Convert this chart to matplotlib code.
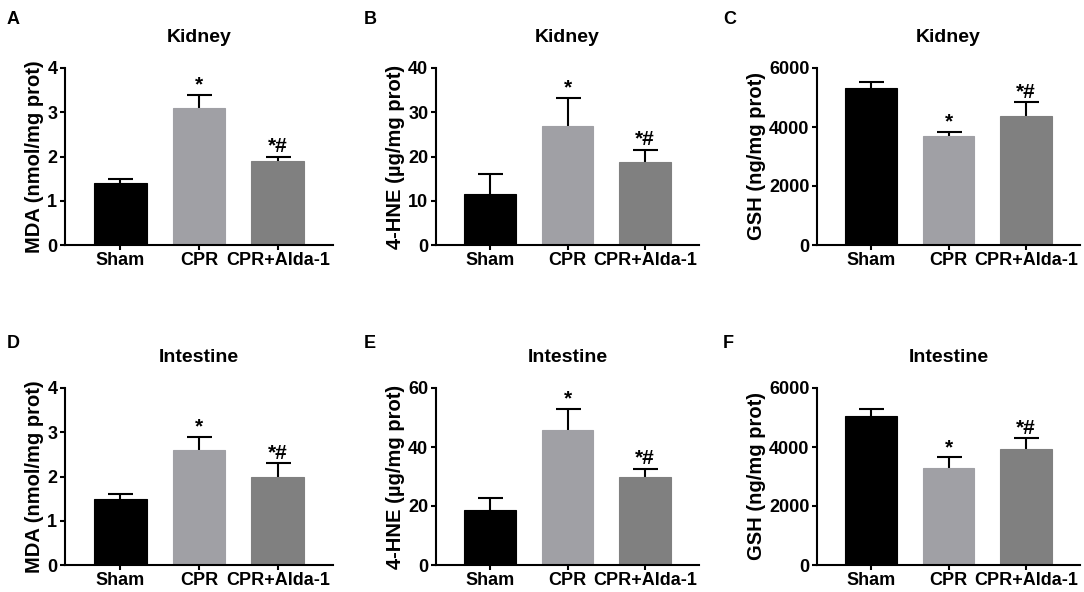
import numpy as np
import matplotlib
matplotlib.use('Agg')
import matplotlib.pyplot as plt

plt.rcParams['font.family'] = ['Liberation Sans', 'DejaVu Sans']
plt.rcParams['font.weight'] = 'bold'

# Nhóm thí nghiệm
groups = ['Sham', 'CPR', 'CPR+Alda-1']
bar_colors = ['#000000', '#a0a0a5', '#808080']

# Giá trị trung bình và sai số (chỉ vẽ phía trên)
kidney_mda = [1.4, 3.1, 1.9]
kidney_mda_err = [0.1, 0.3, 0.1]
kidney_hne = [11.6, 26.9, 18.8]
kidney_hne_err = [4.5, 6.4, 2.7]
kidney_gsh = [5310, 3685, 4360]
kidney_gsh_err = [225, 135, 475]

intestine_mda = [1.5, 2.6, 2.0]
intestine_mda_err = [0.1, 0.3, 0.3]
intestine_hne = [18.8, 45.7, 30.0]
intestine_hne_err = [4.0, 7.3, 2.7]
intestine_gsh = [5050, 3305, 3940]
intestine_gsh_err = [250, 340, 360]

# Ký hiệu thống kê
marks = ['', '*', '*#']

panels = [
    ('A', 'Kidney', kidney_mda, kidney_mda_err, 'MDA (nmol/mg prot)', 4, 1),
    ('B', 'Kidney', kidney_hne, kidney_hne_err, '4-HNE (\u00b5g/mg prot)', 40, 10),
    ('C', 'Kidney', kidney_gsh, kidney_gsh_err, 'GSH (ng/mg prot)', 6000, 2000),
    ('D', 'Intestine', intestine_mda, intestine_mda_err, 'MDA (nmol/mg prot)', 4, 1),
    ('E', 'Intestine', intestine_hne, intestine_hne_err, '4-HNE (\u00b5g/mg prot)', 60, 20),
    ('F', 'Intestine', intestine_gsh, intestine_gsh_err, 'GSH (ng/mg prot)', 6000, 2000),
]

W, H = 1084, 592
fig = plt.figure(figsize=(W / 100, H / 100), dpi=100)

# Vị trí trục (pixel): trái, phải
col_px = [(65, 333), (436, 699), (817, 1080)]
row_px = [(68, 245), (388, 565)]
letter_x = [7, 364, 723]
letter_y = [20, 343]

x = np.arange(len(groups))
for i, (letter, title, vals, errs, ylab, ymax, step) in enumerate(panels):
    r, c = divmod(i, 3)
    l, rr = col_px[c]
    t, b = row_px[r]
    ax = fig.add_axes([l / W, 1 - b / H, (rr - l) / W, (b - t) / H])
    ax.bar(x, vals, width=0.67, color=bar_colors, edgecolor=bar_colors,
           linewidth=0.8, zorder=2)
    eb = ax.errorbar(x, vals, yerr=[np.zeros(3), errs], fmt='none', ecolor='black',
                     elinewidth=1.5, capsize=9, capthick=1.5, zorder=1)
    # bỏ nắp dưới
    eb[1][0].set_visible(False)
    for xi, v, e, m in zip(x, vals, errs, marks):
        if m:
            ax.text(xi, v + e + ymax * 0.003, m, ha='center', va='bottom',
                    fontsize=15, fontweight='bold')
    ax.set_xlim(-0.7, 2.7)
    ax.set_ylim(0, ymax)
    ax.set_yticks(np.arange(0, ymax + step / 2, step))
    ax.set_xticks(x)
    ax.set_xticklabels(groups)
    for s in ['top', 'right']:
        ax.spines[s].set_visible(False)
    for s in ['left', 'bottom']:
        ax.spines[s].set_linewidth(1.5)
    ax.tick_params(axis='both', width=1.5, length=3.5, labelsize=13)
    ax.tick_params(axis='x', pad=1.5)
    ax.tick_params(axis='y', pad=2)
    ax.set_ylabel(ylab, fontsize=14.5, fontweight='bold', labelpad=2)
    ax.set_title(title, fontsize=14, fontweight='bold', pad=19)
    fig.text(letter_x[c] / W, 1 - letter_y[r] / H, letter, fontsize=13,
             fontweight='bold', va='center', ha='left')

fig.savefig('out.png', dpi=100)
